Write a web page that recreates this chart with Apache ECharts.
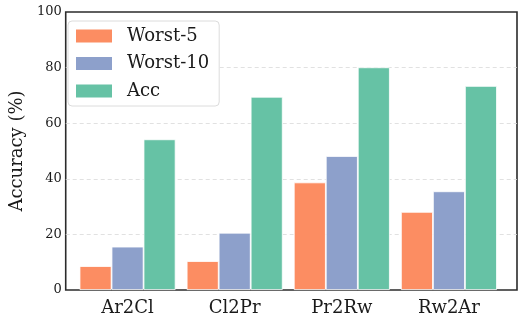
<!DOCTYPE html>
<html>
<head>
<meta charset="utf-8">
<script src="https://cdn.jsdelivr.net/npm/echarts@6/dist/echarts.min.js"></script>
<style>
  html, body { margin: 0; padding: 0; background: #fff; }
  #chart { width: 524px; height: 324px; }
</style>
</head>
<body>
<div id="chart"></div>
<script>
// 数据
const categories = ['Ar2Cl', 'Cl2Pr', 'Pr2Rw', 'Rw2Ar'];
const worst5 = [8.6, 10.4, 38.7, 28.1];
const worst10 = [15.6, 20.6, 48.2, 35.5];
const acc = [54.2, 69.5, 80.1, 73.4];
const yTicks = [0, 20, 40, 60, 80, 100];

const colors = ['#fc8d62', '#8da0cb', '#66c2a5'];
const font = 'DejaVu Serif';

var chart = echarts.init(document.getElementById('chart'));

function barSeries(name, data, color) {
    return {
        name: name,
        type: 'bar',
        xAxisIndex: 1,
        yAxisIndex: 1,
        data: data,
        barWidth: 32,
        barGap: '0%',
        itemStyle: {
            color: color,
            borderColor: '#fff',
            borderWidth: 0.8
        }
    };
}

// 0 和 100 处不画网格线（由外框代替）
const splitColors = yTicks.map((t, i) => (i === 0 || i === yTicks.length - 1) ? 'rgba(0,0,0,0)' : '#d9d9d9');

var option = {
    animation: false,
    backgroundColor: '#fff',
    // 外框 grid 和 数据 grid
    grid: [
        { left: 58, right: 7, top: 12, bottom: 34, show: true, borderColor: '#2b2b2b', borderWidth: 1.6, backgroundColor: 'transparent' },
        { left: 74, right: 21.5, top: 12, bottom: 34 }
    ],
    legend: {
        orient: 'vertical',
        left: 68,
        top: 21,
        padding: [6, 10, 6, 8],
        itemWidth: 36,
        itemHeight: 13,
        itemGap: 9.5,
        icon: 'rect',
        backgroundColor: '#fff',
        borderColor: '#dcdcdc',
        borderWidth: 1,
        borderRadius: 4,
        itemStyle: { borderWidth: 0 },
        textStyle: {
            fontFamily: font,
            fontSize: 18,
            color: '#1a1a1a',
            lineHeight: 18,
            padding: [0, 0, 0, 10]
        },
        data: ['Worst-5', 'Worst-10', 'Acc']
    },
    xAxis: [
        { gridIndex: 0, type: 'value', show: false, min: 0, max: 1 },
        {
            gridIndex: 1,
            type: 'category',
            data: categories,
            axisLine: { show: false },
            axisTick: { show: false },
            axisLabel: { fontFamily: font, fontSize: 18, color: '#1a1a1a', margin: 9 }
        }
    ],
    yAxis: [
        {
            gridIndex: 0,
            type: 'value',
            min: yTicks[0],
            max: yTicks[yTicks.length - 1],
            interval: 20,
            name: 'Accuracy (%)',
            nameLocation: 'middle',
            nameGap: 33,
            nameTextStyle: { fontFamily: font, fontSize: 18, color: '#1a1a1a' },
            axisLine: { show: false },
            axisTick: { show: false },
            axisLabel: { fontFamily: font, fontSize: 13, color: '#1a1a1a', margin: 4 },
            splitLine: {
                show: true,
                lineStyle: { color: splitColors, type: [4, 3], width: 0.8 }
            }
        },
        { gridIndex: 1, type: 'value', min: 0, max: 100, show: false }
    ],
    series: [
        barSeries('Worst-5', worst5, colors[0]),
        barSeries('Worst-10', worst10, colors[1]),
        barSeries('Acc', acc, colors[2])
    ]
};

chart.setOption(option);
</script>
</body>
</html>
